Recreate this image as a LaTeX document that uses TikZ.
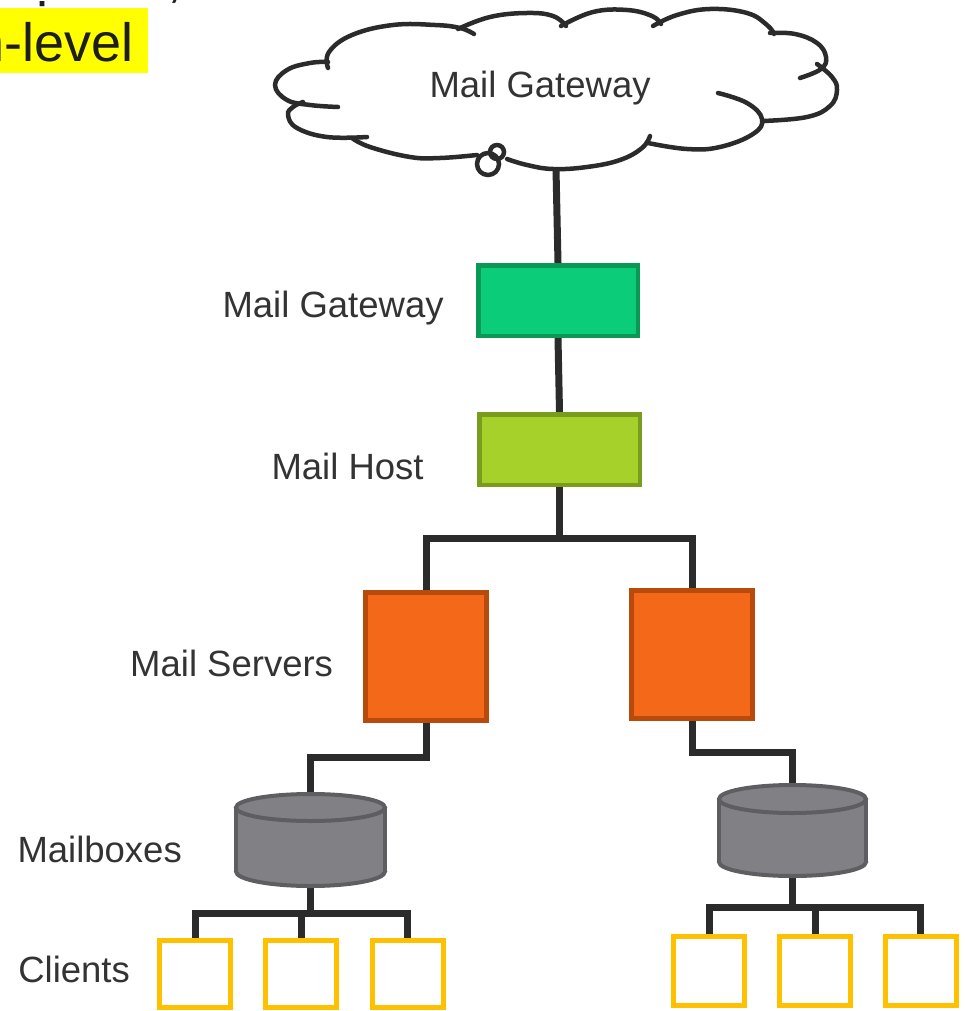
\documentclass[tikz,border=0pt]{standalone}
\usepackage{fontspec}
\setmainfont{Liberation Sans}
\pgfdeclarelayer{paper}
\pgfdeclarelayer{wires}
\pgfsetlayers{paper,wires,main}
\definecolor{ink}{HTML}{333333}
\definecolor{darkink}{HTML}{1E1E1E}
\definecolor{wire}{HTML}{2B2B2B}
\definecolor{gwfill}{HTML}{0BCC78}
\definecolor{gwline}{HTML}{0A9955}
\definecolor{hostfill}{HTML}{A6D12A}
\definecolor{hostline}{HTML}{7A9C1C}
\definecolor{srvfill}{HTML}{F46819}
\definecolor{srvline}{HTML}{B84A0C}
\definecolor{mbfill}{HTML}{808085}
\definecolor{mbline}{HTML}{5E5E62}
\definecolor{clientline}{HTML}{FFC000}
\definecolor{hilite}{HTML}{FFFF00}

\begin{document}
\begin{tikzpicture}[x=1pt,y=-1pt,
  lbl/.style={anchor=base west, inner sep=0, text=ink, font=\fontsize{36.5}{44}\selectfont},
  bigtext/.style={anchor=base west, inner sep=0, text=darkink, font=\fontsize{54}{62}\selectfont},
  wirestyle/.style={draw=wire, line width=7},
  puff/.style={draw=wire, line width=4.5, line cap=round},
  box/.style={draw, rectangle, inner sep=0},
  client/.style={box, draw=clientline, fill=white, line width=5, minimum width=71},
  drum/.style={draw=mbline, fill=mbfill, line width=4},
  slot/.style={inner sep=0, rectangle}]

\useasboundingbox (0,0) rectangle (964,1011);
\begin{pgfonlayer}{paper}
  \fill[white] (0,0) rectangle (964,1011);
\end{pgfonlayer}

% highlighted fragment of the caption and the tail of the line above it
\begin{scope}
  \clip (0,0) rectangle (964,1011);
  \fill[hilite] (0,8) rectangle (148,73);
  \node[bigtext] (caption) at (-25.4,62) {n-level};
  \node[bigtext] (capComma) at (167,-3.5) {,};
\end{scope}
\begin{scope}
  \clip (0,1.5) rectangle (120,8);
  \node[bigtext] (capP) at (36.4,-4) {p};
\end{scope}

% cloud outline, built from overlapping puffs
\draw[puff] plot[smooth, tension=0.7] coordinates {(328,68) (329,52) (352,35) (393,25) (435,25) (460,28) (474,34)};
\draw[puff] plot[smooth, tension=0.7] coordinates {(458,29) (490,17) (527,13) (553,16) (566,26)};
\draw[puff] plot[smooth, tension=0.7] coordinates {(561,26) (593,12) (627,10) (652,16) (661,24)};
\draw[puff] plot[smooth, tension=0.7] coordinates {(653,26) (677,15) (710,9) (747,13) (767,25) (774,34)};
\draw[puff] plot[smooth, tension=0.7] coordinates {(770,33) (795,34) (817,43) (826,57) (821,69) (800,78)};
\draw[puff] plot[smooth, tension=0.7] coordinates {(817,64) (832,77) (837,90) (830,106) (807,117) (763,121)};
\draw[puff] plot[smooth, tension=0.7] coordinates {(718,93) (747,103) (762,119) (753,134) (720,147) (687,149) (648,143)};
\draw[puff] plot[smooth, tension=0.7] coordinates {(650,136) (642,148) (620,160) (587,167) (553,169) (527,165) (507,159)};
\draw[puff] plot[smooth, tension=0.7] coordinates {(477,155) (440,158) (410,157) (370,147) (352,138)};
\draw[puff] plot[smooth, tension=0.7] coordinates {(367,137) (327,137) (297,128) (288,115) (293,107) (303,102)};
\draw[puff] plot[smooth, tension=0.7] coordinates {(338,107) (310,105) (287,100) (275,85) (287,70) (310,63) (328,62)};
\draw[puff] (488,164) circle[radius=11];
\draw[puff] (497,152) circle[radius=7];
\node[lbl] (cloudlbl) at (429.3,98) {Mail Gateway};
\coordinate (cloudbase) at (556,169);

% labels
\node[lbl] (lblGW)   at (222.3,317) {Mail Gateway};
\node[lbl] (lblHost) at (271.3,479.3) {Mail Host};
\node[lbl] (lblSrv)  at (130,676.7) {Mail Servers};
\node[lbl] (lblMB)   at (17.3,862) {Mailboxes};
\node[lbl] (lblCl)   at (18.1,982) {Clients};

% boxes
\node[box, draw=gwline, fill=gwfill, line width=4.5, minimum width=159.5, minimum height=70.5] (gw) at (558,300.5) {};
\node[box, draw=hostline, fill=hostfill, line width=4.5, minimum width=160.5, minimum height=70.5] (host) at (559.5,449.5) {};
\node[box, draw=srvline, fill=srvfill, line width=5, minimum width=121, minimum height=128] (srvL) at (426,656.5) {};
\node[box, draw=srvline, fill=srvfill, line width=5, minimum width=121, minimum height=128] (srvR) at (692,654.5) {};

% mailbox stores
\node[slot, minimum width=153, minimum height=96] (mbL) at (310.5,840) {};
\node[slot, minimum width=151, minimum height=95] (mbR) at (792.5,830.5) {};

\filldraw[drum] (310.5,871.5) ellipse[x radius=74.5, y radius=14.5];
\fill[mbfill] (236,807.5) rectangle (385,871.5);
\draw[drum] (236,807.5) -- (236,871.5) (385,807.5) -- (385,871.5);
\filldraw[drum] (310.5,807.5) ellipse[x radius=74.5, y radius=13.5];

\filldraw[drum] (792.5,862) ellipse[x radius=73.5, y radius=14];
\fill[mbfill] (719,799) rectangle (866,862);
\draw[drum] (719,799) -- (719,862) (866,799) -- (866,862);
\filldraw[drum] (792.5,799) ellipse[x radius=73.5, y radius=14];

% clients
\node[client, minimum height=67] (cL1) at (195.3,974) {};
\node[client, minimum height=67] (cL2) at (301.3,974) {};
\node[client, minimum height=67] (cL3) at (407.5,974) {};
\node[client, minimum height=69] (cR1) at (709,971) {};
\node[client, minimum height=69] (cR2) at (815,971) {};
\node[client, minimum height=69] (cR3) at (920.7,971) {};

% junction points
\coordinate (hubA) at (559.5,538);
\coordinate (bendL) at (310.5,757);
\coordinate (bendR) at (792.5,752);
\coordinate (hubL) at (310.5,913);
\coordinate (hubR) at (792.5,907);

\begin{pgfonlayer}{wires}
  \draw[wirestyle] (cloudbase) -- (gw.north);
  \draw[wirestyle] (gw.south) -- (host.north);
  \draw[wirestyle] (host.south) -- (hubA);
  \draw[wirestyle] (srvL.north) |- (hubA) -| (srvR.north);
  \draw[wirestyle] (srvL.south) |- (bendL) -- (mbL.north);
  \draw[wirestyle] (srvR.south) |- (bendR) -- (mbR.north);
  \draw[wirestyle] (mbL.south) -- (hubL);
  \draw[wirestyle] (cL1.north) |- (hubL) -| (cL3.north);
  \draw[wirestyle] (cL2.north) -- (cL2.north |- hubL);
  \draw[wirestyle] (mbR.south) -- (hubR);
  \draw[wirestyle] (cR1.north) |- (hubR) -| (cR3.north);
  \draw[wirestyle] (cR2.north) -- (cR2.north |- hubR);
\end{pgfonlayer}
\end{tikzpicture}
\end{document}
